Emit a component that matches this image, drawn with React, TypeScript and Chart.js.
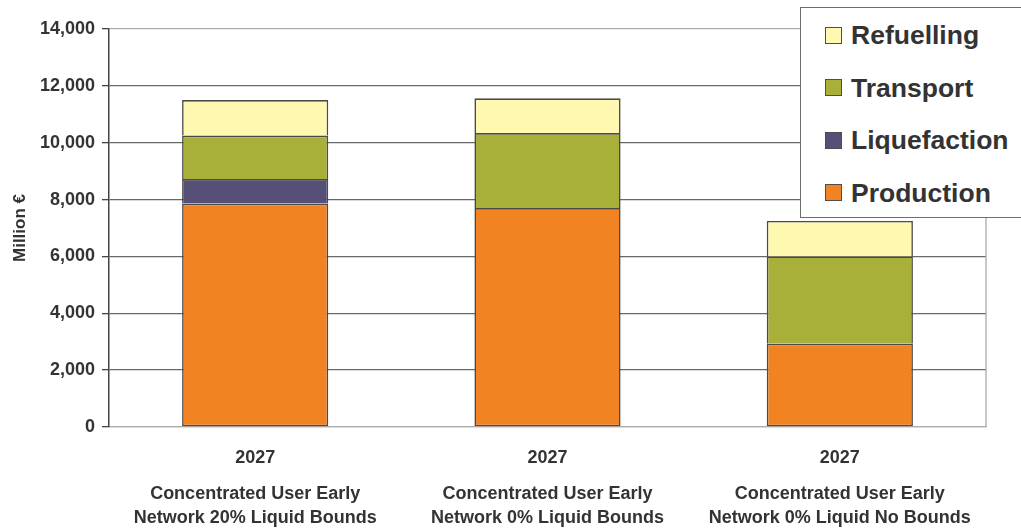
import React, { useEffect, useRef } from "react";
import { Chart, registerables } from "chart.js";

Chart.register(...registerables);

// Scenario labels (year line + two-line description)
const years = ["2027", "2027", "2027"];
const scenarios: string[][] = [
  ["Concentrated User Early", "Network 20% Liquid Bounds"],
  ["Concentrated User Early", "Network 0% Liquid Bounds"],
  ["Concentrated User Early", "Network 0% Liquid No Bounds"],
];

// Cost components, Million €
const production = [7860, 7700, 2930];
const liquefaction = [860, 0, 0];
const transport = [1530, 2640, 3070];
const refuelling = [1250, 1220, 1250];

const yTicks = [0, 2000, 4000, 6000, 8000, 10000, 12000, 14000];

const COLORS = {
  production: "#F28322",
  liquefaction: "#565079",
  transport: "#A8B03A",
  refuelling: "#FFF8B0",
};

const TEXT = "#333333";
const FONT = "'Liberation Sans', Arial, Helvetica, sans-serif";

const seriesList = [
  { label: "Production", data: production, color: COLORS.production },
  { label: "Liquefaction", data: liquefaction, color: COLORS.liquefaction },
  { label: "Transport", data: transport, color: COLORS.transport },
  { label: "Refuelling", data: refuelling, color: COLORS.refuelling },
];

// thin light frame on the right side of the plot area
const rightFrame = {
  id: "rightFrame",
  afterDraw(chart: any) {
    const { ctx, chartArea } = chart;
    ctx.save();
    ctx.strokeStyle = "#b0a8a8";
    ctx.lineWidth = 1.3;
    ctx.beginPath();
    ctx.moveTo(chartArea.right, chartArea.top);
    ctx.lineTo(chartArea.right, chartArea.bottom);
    ctx.stroke();
    ctx.restore();
  },
};

export default function App() {
  const canvasRef = useRef<HTMLCanvasElement | null>(null);

  useEffect(() => {
    document.body.style.margin = "0";
    const canvas = canvasRef.current;
    if (!canvas) return;
    const chart = new Chart(canvas, {
      type: "bar",
      data: {
        labels: years,
        datasets: seriesList.map((s, i) => ({
          label: s.label,
          data: s.data,
          backgroundColor: s.color,
          borderColor: "#4a4a4a",
          borderWidth: 1.6,
          // stacked segments share one outline: the base segment keeps all sides
          borderSkipped: i === 0 ? false : "start",
          categoryPercentage: 1,
          barPercentage: 0.5,
          xAxisID: "x",
          yAxisID: "y",
        })),
      },
      options: {
        responsive: false,
        animation: false,
        layout: { padding: { top: 29, right: 35, bottom: 0, left: 0 } },
        plugins: {
          legend: { display: false },
          tooltip: { enabled: false },
        },
        scales: {
          x: {
            type: "category",
            position: "bottom",
            stacked: true,
            weight: 0,
            grid: { display: false, drawTicks: false },
            border: { display: true, color: "#b3abab", width: 1.3 },
            ticks: {
              color: TEXT,
              font: { family: FONT, size: 18, weight: "bold" },
              padding: 20,
              maxRotation: 0,
            },
            afterFit: (scale: any) => {
              scale.height = 43;
            },
          },
          x2: {
            type: "category",
            position: "bottom",
            labels: scenarios as any,
            weight: 1,
            grid: { display: false, drawTicks: false },
            border: { display: false },
            ticks: {
              color: TEXT,
              font: { family: FONT, size: 18, weight: "bold", lineHeight: 1.33 },
              padding: 12,
              maxRotation: 0,
              autoSkip: false,
            },
            afterFit: (scale: any) => {
              scale.height = 58;
            },
          },
          y: {
            stacked: true,
            min: 0,
            max: 14000,
            afterBuildTicks: (scale: any) => {
              scale.ticks = yTicks.map((v) => ({ value: v }));
            },
            grid: {
              color: (ctx: any) =>
                ctx.tick && (ctx.tick.value === 0 || ctx.tick.value === 14000)
                  ? "#b3abab"
                  : "#686868",
              lineWidth: 1.3,
              drawTicks: true,
              tickLength: 7,
              tickColor: "#444444",
            },
            border: { display: true, color: "#444444", width: 1.5 },
            ticks: {
              color: TEXT,
              font: { family: FONT, size: 18, weight: "bold" },
              padding: 7,
              callback: (v: any) => Number(v).toLocaleString("en-US"),
            },
            title: {
              display: true,
              text: "Million €",
              color: TEXT,
              font: { family: FONT, size: 17, weight: "bold" },
              padding: { top: 10, bottom: 0 },
            },
            afterFit: (scale: any) => {
              scale.width = 109;
            },
          },
        },
      },
      plugins: [rightFrame],
    });
    return () => chart.destroy();
  }, []);

  const legendItems = [...seriesList].reverse();

  return (
    <div
      style={{
        position: "fixed",
        left: 0,
        top: 0,
        width: 1021,
        height: 528,
        background: "#ffffff",
        overflow: "hidden",
      }}
    >
      <canvas ref={canvasRef} width={1021} height={528} />
      <div
        style={{
          position: "absolute",
          left: 800,
          top: 7,
          width: 260,
          height: 211,
          boxSizing: "border-box",
          border: "1.5px solid #6e6e6e",
          background: "#ffffff",
        }}
      >
        {legendItems.map((s, i) => (
          <div
            key={s.label}
            style={{
              position: "absolute",
              left: 24,
              top: 27 + i * 52.5 - 16,
              height: 32,
              display: "flex",
              alignItems: "center",
              whiteSpace: "nowrap",
            }}
          >
            <span
              style={{
                display: "inline-block",
                width: 17,
                height: 17,
                boxSizing: "border-box",
                background: s.color,
                border: "1.5px solid #4d4d4d",
                marginRight: 9,
              }}
            />
            <span
              style={{
                fontFamily: FONT,
                fontWeight: "bold",
                fontSize: 26.5,
                color: TEXT,
                lineHeight: "32px",
              }}
            >
              {s.label}
            </span>
          </div>
        ))}
      </div>
    </div>
  );
}
